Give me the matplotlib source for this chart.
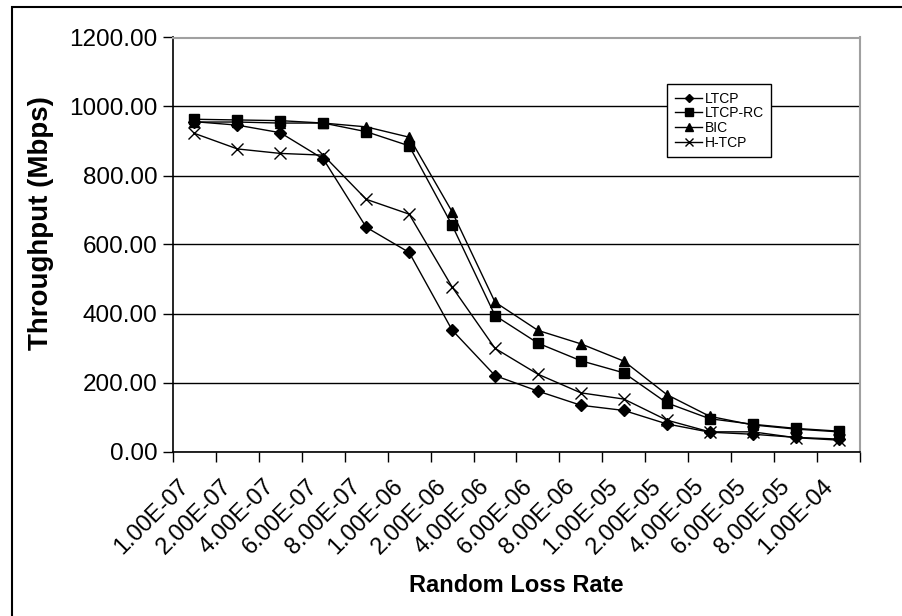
import matplotlib
matplotlib.use("Agg")
import matplotlib.pyplot as plt
from matplotlib.patches import Rectangle
from matplotlib.transforms import ScaledTranslation

categories = ["1.00E-07", "2.00E-07", "4.00E-07", "6.00E-07", "8.00E-07",
              "1.00E-06", "2.00E-06", "4.00E-06", "6.00E-06", "8.00E-06",
              "1.00E-05", "2.00E-05", "4.00E-05", "6.00E-05", "8.00E-05",
              "1.00E-04"]
ltcp = [956, 946, 924, 848, 650, 577, 352, 220, 175, 134, 119, 80, 56, 50, 41, 36]
ltcp_rc = [963, 961, 959, 952, 927, 886, 656, 394, 314, 263, 228, 141, 95, 79, 67, 59]
bic = [955, 955, 952, 952, 941, 911, 695, 433, 351, 312, 262, 165, 102, 77, 65, 57]
htcp = [922, 877, 864, 859, 731, 688, 477, 299, 224, 170, 152, 91, 57, 57, 40, 33]
yticks = [0, 200, 400, 600, 800, 1000, 1200]

plt.rcParams['font.family'] = ['Liberation Sans', 'DejaVu Sans']

W, H = 903, 616
fig = plt.figure(figsize=(W / 100, H / 100), dpi=100)
ax = fig.add_axes([173 / W, 1 - 451.5 / H, (860 - 173) / W, (451.5 - 37.5) / H])

x = list(range(len(categories)))
common = dict(color='black', lw=1.0, markersize=7, markerfacecolor='black',
              markeredgecolor='black')
ax.plot(x, ltcp, marker='D', label='LTCP', **{**common, 'markersize': 6})
ax.plot(x, ltcp_rc, marker='s', label='LTCP-RC', **common)
ax.plot(x, bic, marker='^', label='BIC', **common)
ax.plot(x, htcp, marker='x', label='H-TCP', **{**common, 'markersize': 8, 'mew': 1.0})

ax.set_xlim(-0.5, len(categories) - 0.5)
ax.set_ylim(0, 1200)
ax.set_yticks(yticks)
ax.set_yticklabels([f"{v:.2f}" for v in yticks], fontsize=17.5)
ax.yaxis.grid(True, color='black', lw=1)
ax.set_axisbelow(True)

# category ticks between categories, labels at centers
ax.set_xticks([i - 0.5 for i in range(len(categories) + 1)])
ax.set_xticklabels([])
ax.set_xticks(x, minor=True)
ax.set_xticklabels(categories, minor=True, rotation=45, ha='right', va='center',
                   rotation_mode='anchor', fontsize=17)
ax.tick_params(axis='x', which='minor', length=0, pad=23)
ax.tick_params(axis='x', which='major', length=7, width=1, direction='out')
ax.tick_params(axis='y', length=7, width=1, direction='out', pad=4)

for s in ['left', 'bottom']:
    ax.spines[s].set_color('black')
    ax.spines[s].set_linewidth(1.2)
for s in ['top', 'right']:
    ax.spines[s].set_color('#a0a0a0')
    ax.spines[s].set_linewidth(1.5)

fig.text(41 / W, 1 - 223 / H, 'Throughput (Mbps)', fontsize=20, fontweight='bold',
         ha='center', va='center', rotation=90)
fig.text(516 / W, 1 - 585 / H, 'Random Loss Rate', fontsize=17, fontweight='bold',
         ha='center', va='center')

leg = ax.legend(loc='upper left', bbox_to_anchor=(667 / W, 1 - 84 / H),
                bbox_transform=fig.transFigure, borderaxespad=0, fontsize=10,
                frameon=True, fancybox=False, shadow=False, handlelength=2.0,
                handletextpad=0.15, labelspacing=0.05, borderpad=0.55, markerscale=0.75)
leg.get_frame().set_edgecolor('black')
leg.get_frame().set_linewidth(1)
leg.get_frame().set_alpha(1)

fig.add_artist(Rectangle((12 / W, -0.5), 2, 1.5 - 7 / H, transform=fig.transFigure,
                         fill=False, edgecolor='black', lw=1.5))

offset = ScaledTranslation(-9 / 100, 0, fig.dpi_scale_trans)
for lbl in ax.get_xticklabels(minor=True):
    lbl.set_transform(lbl.get_transform() + offset)

fig.savefig('out.png', dpi=100)
